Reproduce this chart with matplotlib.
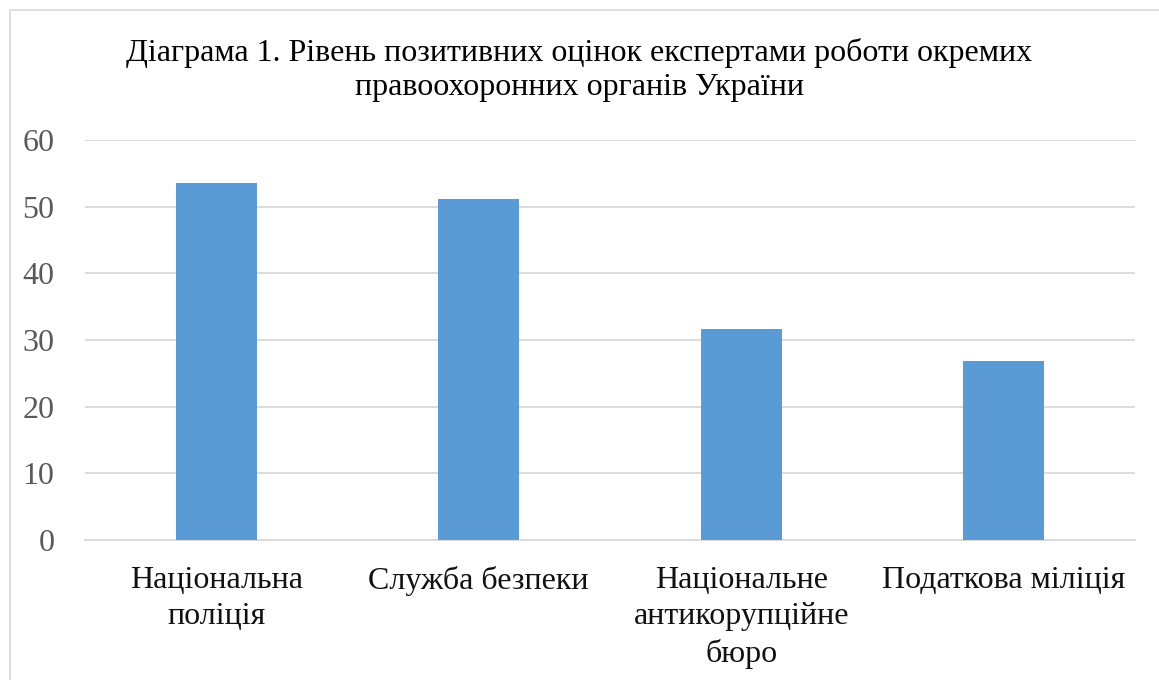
import matplotlib.pyplot as plt
from matplotlib.patches import Rectangle

categories = ['Національна\nполіція', 'Служба безпеки',
              'Національне\nантикорупційне\nбюро', 'Податкова міліція']
values = [53.6, 51.1, 31.7, 26.8]
yticks = [0, 10, 20, 30, 40, 50, 60]
title = 'Діаграма 1. Рівень позитивних оцінок експертами роботи окремих\nправоохоронних органів України'

plt.rcParams['font.family'] = ['Liberation Serif', 'DejaVu Serif']

fig = plt.figure(figsize=(11.59, 6.8), dpi=100)
ax = fig.add_axes([85 / 1159, 1 - 540 / 680, 1050 / 1159, 400 / 680])

# light frame around the whole chart, like in Excel
fig.patches.append(Rectangle((10 / 1159, -0.01), 1.1, 1 - 10 / 680 + 0.01,
                             transform=fig.transFigure, fill=False,
                             edgecolor='#d9d9d9', linewidth=1.2))

x = range(len(categories))
ax.bar(x, values, width=0.31, color='#5b9bd5', zorder=3)

ax.set_xlim(-0.5, len(categories) - 0.5)
ax.set_ylim(0, 60)
ax.set_yticks(yticks)
ax.set_xticks(list(x))
ax.set_xticklabels(categories, fontsize=23, color='#111111', linespacing=1.32)
ax.tick_params(axis='y', labelsize=23, labelcolor='#595959', length=0, pad=22)
ax.tick_params(axis='x', length=0, pad=19)
ax.grid(axis='y', color='#d9d9d9', linewidth=1.3, zorder=0)
for s in ['top', 'right', 'left']:
    ax.spines[s].set_visible(False)
ax.spines['bottom'].set_color('#d9d9d9')
ax.spines['bottom'].set_linewidth(1.3)

fig.text(0.5, 1 - 70 / 680, title, ha='center', va='center',
         fontsize=23, color='black', linespacing=1.25)

fig.savefig('out.png', dpi=100)
